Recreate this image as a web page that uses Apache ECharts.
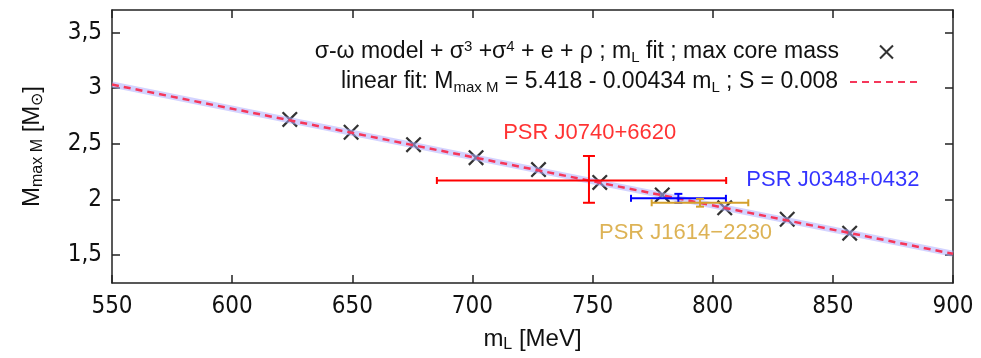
<!DOCTYPE html>
<html>
<head>
<meta charset="utf-8">
<script src="https://cdn.jsdelivr.net/npm/echarts@6/dist/echarts.min.js"></script>
<style>
html,body{margin:0;padding:0;background:#fff;}
#chart{width:981px;height:358px;}
</style>
</head>
<body>
<div id="chart"></div>
<script>
// ---- data ----
const mL   = [624, 649.5, 675.5, 701.5, 727.5, 753, 779, 805, 831, 857];
const Mmax = [2.718, 2.603, 2.491, 2.375, 2.268, 2.153, 2.040, 1.925, 1.822, 1.697];

const fitX = [550, 900];
const fitY = [3.031, 1.512];

const pulsarNames    = ['PSR J0740+6620', 'PSR J0348+0432', 'PSR J1614\u22122230'];
const pulsarML       = [748.5, 785.7, 794.7];
const pulsarMLLow    = [685.2, 766.0, 774.6];
const pulsarMLHigh   = [805.6, 805.5, 814.8];
const pulsarMass     = [2.17, 2.01, 1.97];
const pulsarMassLow  = [1.97, 1.97, 1.935];
const pulsarMassHigh = [2.39, 2.05, 2.005];
// annotation anchors for pulsar names (data coords)
const labelML   = [748.8, 850, 788.7];
const labelMass = [2.596, 2.174, 1.697];

const yTicks = [1.5, 2, 2.5, 3, 3.5];

// ---- styles ----
const FONT = '"Liberation Sans", Arial, sans-serif';
const TICKFONT = '"DejaVu Sans Condensed", "Liberation Sans", sans-serif';
const pulsarColors = ['#ff0000', '#0000ff', '#d4a02c'];
const capHalfX = [3.5, 3.5, 3.5];   // half-height of caps on horizontal bars
const capHalfY = [6, 4, 4];         // half-width of caps on vertical bars
const axisColor = '#222';
const X_PATH = 'path://M2,0 L10,8 L18,0 L20,2 L12,10 L20,18 L18,20 L10,12 L2,20 L0,18 L8,10 L0,2 Z';

const legendRich = {
  sub: {fontSize: 15, fontFamily: FONT, color: '#111', verticalAlign: 'bottom', lineHeight: 11},
  sup: {fontSize: 15, fontFamily: FONT, color: '#111', verticalAlign: 'top', lineHeight: 10}
};
const nameRich = {
  sub: {fontSize: 16, fontFamily: FONT, color: '#111', verticalAlign: 'bottom', lineHeight: 12}
};

const chart = echarts.init(document.getElementById('chart'));

const errData = pulsarML.map((x, i) => [x, pulsarMass[i], pulsarMLLow[i], pulsarMLHigh[i], pulsarMassLow[i], pulsarMassHigh[i], i]);

const option = {
  animation: false,
  backgroundColor: '#fff',
  grid: {left: 112, right: 28, top: 10, bottom: 71},
  legend: [
    {
      data: ['model'], right: 54, top: 34, align: 'right',
      itemWidth: 71, itemHeight: 18,
      formatter: () => '\u03c3-\u03c9 model + \u03c3{sup|3} +\u03c3{sup|4} + e + \u03c1 ; m{sub|L} fit ; max core mass',
      textStyle: {fontFamily: FONT, fontSize: 23, lineHeight: 26, color: '#111', padding: [0, 7, 0, 0], rich: legendRich}
    },
    {
      data: ['fit'], right: 54, top: 64, align: 'right',
      itemWidth: 71, itemHeight: 18,
      itemStyle: {opacity: 0},
      formatter: () => 'linear fit: M{sub|max M} = 5.418 - 0.00434 m{sub|L} ; S = 0.008',
      textStyle: {fontFamily: FONT, fontSize: 23, lineHeight: 26, color: '#111', padding: [0, 7, 0, 0], rich: legendRich}
    }
  ],
  xAxis: [
    {
      type: 'value', min: 550, max: 900, interval: 50, position: 'bottom',
      axisLine: {show: true, onZero: false, lineStyle: {color: axisColor, width: 1.5}},
      axisTick: {show: true, inside: true, length: 8, lineStyle: {color: axisColor, width: 1.5}},
      axisLabel: {fontSize: 24, fontFamily: TICKFONT, color: '#111', margin: 12},
      splitLine: {show: false},
      name: 'm{sub|L} [MeV]', nameLocation: 'middle', nameGap: 42,
      nameTextStyle: {fontSize: 24, lineHeight: 28, fontFamily: FONT, color: '#111', rich: nameRich}
    },
    {
      type: 'value', min: 550, max: 900, interval: 50, position: 'top',
      axisLine: {show: true, onZero: false, lineStyle: {color: axisColor, width: 1.5}},
      axisTick: {show: true, inside: true, length: 8, lineStyle: {color: axisColor, width: 1.5}},
      axisLabel: {show: false}, splitLine: {show: false}
    }
  ],
  yAxis: [
    {
      type: 'value', min: 1.25, max: 3.7, position: 'left',
      axisLine: {show: true, onZero: false, lineStyle: {color: axisColor, width: 1.5}},
      axisTick: {show: true, inside: true, length: 8, customValues: yTicks, lineStyle: {color: axisColor, width: 1.5}},
      axisLabel: {customValues: yTicks, fontSize: 24, fontFamily: TICKFONT, color: '#111', margin: 10,
        formatter: v => String(v).replace('.', ',')},
      splitLine: {show: false},
      name: 'M{sub|max M} [M{sub|\u2299}]', nameLocation: 'middle', nameGap: 66, nameRotate: 90,
      nameTextStyle: {fontSize: 24, lineHeight: 28, fontFamily: FONT, color: '#111', rich: nameRich}
    },
    {
      type: 'value', min: 1.25, max: 3.7, position: 'right',
      axisLine: {show: true, onZero: false, lineStyle: {color: axisColor, width: 1.5}},
      axisTick: {show: true, inside: true, length: 8, customValues: yTicks, lineStyle: {color: axisColor, width: 1.5}},
      axisLabel: {show: false}, splitLine: {show: false}
    }
  ],
  series: [
    {
      name: 'model', type: 'line', xAxisIndex: 0, yAxisIndex: 0,
      data: mL.map((x, i) => [x, Mmax[i]]),
      symbol: X_PATH, symbolSize: 16, showSymbol: true,
      lineStyle: {width: 0, opacity: 0},
      itemStyle: {color: '#333'},
      z: 2
    },
    {
      name: 'band', type: 'line', xAxisIndex: 0, yAxisIndex: 0,
      data: fitX.map((x, i) => [x, fitY[i]]),
      symbol: 'none', lineStyle: {color: 'rgba(175,175,255,0.55)', width: 6},
      z: 3
    },
    {
      name: 'fit', type: 'line', xAxisIndex: 0, yAxisIndex: 0,
      data: fitX.map((x, i) => [x, fitY[i]]),
      symbol: 'none', lineStyle: {color: '#f5375a', width: 2.5, type: [7, 5]},
      itemStyle: {color: '#f5375a'},
      z: 4
    },
    {
      name: 'errors', type: 'custom', xAxisIndex: 0, yAxisIndex: 0,
      data: errData, z: 5,
      renderItem: (params, api) => {
        const x = api.value(0), y = api.value(1);
        const i = api.value(6);
        const l = api.coord([api.value(2), y]);
        const r = api.coord([api.value(3), y]);
        const b = api.coord([x, api.value(4)]);
        const t = api.coord([x, api.value(5)]);
        const style = {stroke: pulsarColors[i], lineWidth: 2};
        const hx = capHalfX[i], hy = capHalfY[i];
        const seg = (x1, y1, x2, y2) => ({type: 'line', shape: {x1, y1, x2, y2}, style});
        return {type: 'group', children: [
          seg(l[0], l[1], r[0], r[1]),
          seg(l[0], l[1] - hx, l[0], l[1] + hx),
          seg(r[0], r[1] - hx, r[0], r[1] + hx),
          seg(t[0], t[1], b[0], b[1]),
          seg(t[0] - hy, t[1], t[0] + hy, t[1]),
          seg(b[0] - hy, b[1], b[0] + hy, b[1])
        ]};
      }
    },
    {
      name: 'labels', type: 'scatter', xAxisIndex: 0, yAxisIndex: 0,
      symbolSize: 0, z: 6,
      data: pulsarNames.map((n, i) => ({
        name: n, value: [labelML[i], labelMass[i]],
        label: {show: true, position: 'inside', formatter: '{b}', color: pulsarColors[i],
          fontSize: 22, fontFamily: FONT}
      }))
    }
  ]
};
chart.setOption(option);
</script>
</body>
</html>
